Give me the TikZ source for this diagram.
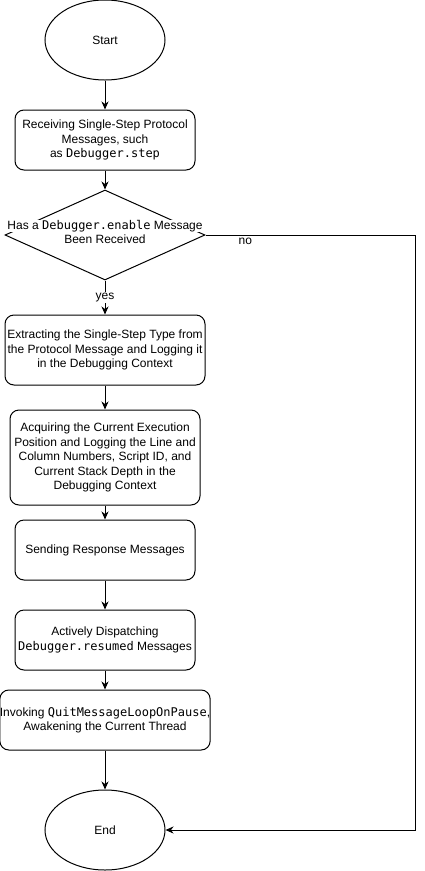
\documentclass[tikz,border=0pt]{standalone}
\usepackage{fontspec}
\setmainfont{Liberation Sans}
\setmonofont{DejaVu Sans Mono}
\usepackage{tikz}
\usetikzlibrary{shapes.geometric, arrows, arrows.meta, positioning}
\tikzstyle{startstop} = [draw, ellipse, line width=1pt, inner sep=0pt, minimum width=120pt, minimum height=80pt]
\tikzstyle{block} = [draw, rectangle, rounded corners=9pt, line width=1pt, align=center, inner sep=0pt]
\tikzstyle{decision} = [draw, diamond, line width=1pt, inner sep=0pt, minimum width=200pt, minimum height=90pt]
\tikzstyle{label} = [fill=white, inner sep=1pt]
\tikzstyle{line} = [draw, line width=1pt, -{Stealth[length=8pt, width=7pt, inset=2.5pt]}]
\tikzstyle{turn} = [coordinate]

\begin{document}
\begin{tikzpicture}[x=1pt, y=1pt, node distance=100pt, font=\fontsize{12pt}{14.4pt}\selectfont]
        \useasboundingbox (0,0) rectangle (424,-871);
        % start node
        \node [startstop] (start) at (105,-40) {Start};
        % receive the single-step message
        \node [block, below of=start, minimum width=180pt, minimum height=60pt] (recv) {Receiving Single-Step Protocol\\Messages, such\\as \texttt{Debugger.step}};
        % check whether debugging is enabled
        \node [decision, below of=recv, node distance=95pt] (check) {};
        \node [align=center, inner sep=0pt] (checktext) at ([yshift=3pt]check.center) {\fboxsep=0.5pt\colorbox{white}{Has a \texttt{Debugger.enable} Message}\\\fboxsep=0.5pt\colorbox{white}{Been Received}};
        % record the step type
        \node [block, below of=check, node distance=115pt, minimum width=200pt, minimum height=70pt] (steptype) {Extracting the Single-Step Type from\\the Protocol Message and Logging it\\in the Debugging Context};
        % record the position
        \node [block, below of=steptype, node distance=107.5pt, minimum width=190pt, minimum height=95pt] (position) {Acquiring the Current Execution\\Position and Logging the Line and\\Column Numbers, Script ID, and\\Current Stack Depth in the\\Debugging Context};
        % reply
        \node [block, below of=position, node distance=92.5pt, minimum width=180pt, minimum height=60pt] (respond) {Sending Response Messages};
        % resumed event
        \node [block, below of=respond, node distance=90pt, minimum width=180pt, minimum height=60pt] (resumed) {Actively Dispatching\\\texttt{Debugger.resumed} Messages};
        % wake the thread
        \node [block, below of=resumed, node distance=80pt, minimum width=210pt, minimum height=60pt] (wake) {Invoking \texttt{QuitMessageLoopOnPause},\\Awakening the Current Thread};
        % end node
        \node [startstop, below of=wake, node distance=110pt] (end) {End};
        % corner of the no branch
        \node [turn] (noturn) at (415,-235) {};
        % connect the nodes
        \draw [line] (start) -- (recv);
        \draw [line] (recv) -- (check);
        \draw [line] (check) -- node [label] {yes} (steptype);
        \draw [line] (steptype) -- (position);
        \draw [line] (position) -- (respond);
        \draw [line] (respond) -- (resumed);
        \draw [line] (resumed) -- (wake);
        \draw [line] (wake) -- (end);
        % the no branch
        \draw [line] (check.east) -- node [pos=0.19, below, inner sep=3pt] {no} (noturn) |- (end.east);
\end{tikzpicture}
\end{document}
